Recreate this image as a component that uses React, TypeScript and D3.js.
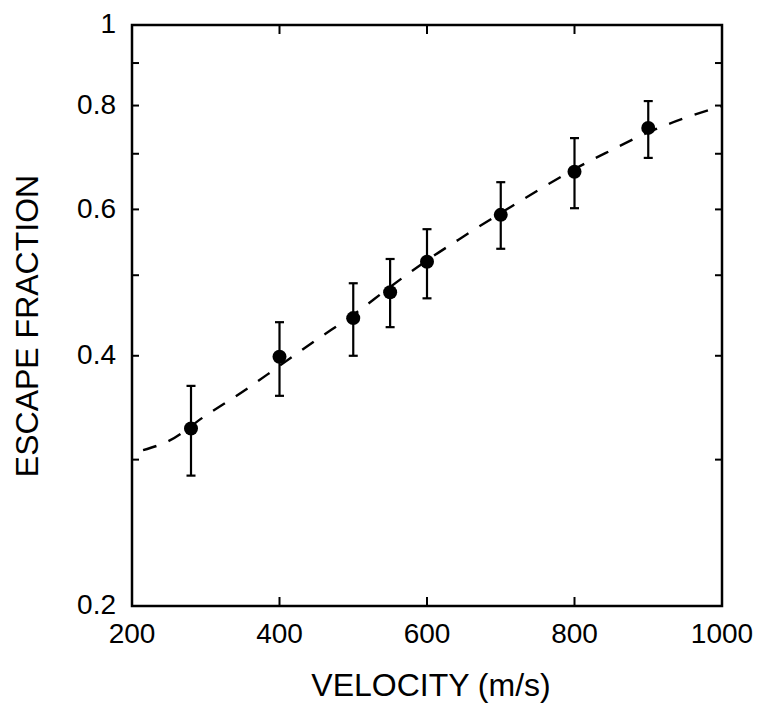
import React from "react";
import * as d3 from "d3";

const velocities = [280, 400, 500, 550, 600, 700, 800, 900];
const fractions = [0.327, 0.399, 0.444, 0.477, 0.519, 0.591, 0.666, 0.752];
const errLow = [0.287, 0.358, 0.4, 0.433, 0.469, 0.538, 0.602, 0.692];
const errHigh = [0.368, 0.439, 0.489, 0.523, 0.568, 0.647, 0.731, 0.81];

const fitV = [215, 250, 300, 350, 400, 450, 500, 550, 600, 650, 700, 750, 800, 850, 900, 950, 1000];
const fitF = [0.308, 0.316, 0.339, 0.362, 0.389, 0.418, 0.448, 0.484, 0.521, 0.557, 0.594, 0.632, 0.671, 0.707, 0.743, 0.773, 0.799];

const xTicks = [200, 400, 600, 800, 1000];
const xTickLabels = ["200", "400", "600", "800", "1000"];
const yTicks = [0.2, 0.4, 0.6, 0.8, 1];
const yTickLabels = ["0.2", "0.4", "0.6", "0.8", "1"];
const yMinorTicks = [0.3, 0.5, 0.7, 0.9];

const W = 758;
const H = 706;
const L = 132;
const R = 722;
const T = 25;
const B = 606;
const FONT = "'Liberation Sans', Arial, Helvetica, sans-serif";

export default function App() {
  const x = d3.scaleLinear().domain([200, 1000]).range([L, R]);
  const y = d3.scaleLog().domain([0.2, 1]).range([B, T]);
  const line = d3
    .line<number>()
    .x((_, i) => x(fitV[i]))
    .y((d) => y(d))
    .curve(d3.curveMonotoneX);

  const tickLen = 7;
  const allY = [...yTicks.slice(1, -1), ...yMinorTicks];
  const innerX = xTicks.slice(1, -1);

  return (
    <svg
      width={W}
      height={H}
      style={{ position: "absolute", left: 0, top: 0, background: "#fff" }}
      fontFamily={FONT}
    >
      <rect x={0} y={0} width={W} height={H} fill="#fff" />
      {allY.map((v, i) => (
        <g key={"yt" + i} stroke="#000" strokeWidth={2}>
          <line x1={L} x2={L + tickLen} y1={y(v)} y2={y(v)} />
          <line x1={R} x2={R - tickLen} y1={y(v)} y2={y(v)} />
        </g>
      ))}
      {innerX.map((v, i) => (
        <g key={"xt" + i} stroke="#000" strokeWidth={2}>
          <line x1={x(v)} x2={x(v)} y1={B} y2={B - 9} />
          <line x1={x(v)} x2={x(v)} y1={T} y2={T + 9} />
        </g>
      ))}
      <rect x={L} y={T} width={R - L} height={B - T} fill="none" stroke="#000" strokeWidth={2.5} />
      <path
        d={line(fitF) || ""}
        fill="none"
        stroke="#000"
        strokeWidth={2.4}
        strokeDasharray="14 13"
      />
      {velocities.map((v, i) => (
        <g key={"e" + i} stroke="#000" strokeWidth={2.2}>
          <line x1={x(v)} x2={x(v)} y1={y(errLow[i])} y2={y(errHigh[i])} />
          <line x1={x(v) - 4.5} x2={x(v) + 4.5} y1={y(errLow[i])} y2={y(errLow[i])} />
          <line x1={x(v) - 4.5} x2={x(v) + 4.5} y1={y(errHigh[i])} y2={y(errHigh[i])} />
        </g>
      ))}
      {velocities.map((v, i) => (
        <circle key={"p" + i} cx={x(v)} cy={y(fractions[i])} r={7} fill="#000" />
      ))}
      {yTicks.map((v, i) => (
        <text
          key={"yl" + i}
          x={116}
          y={y(v)}
          dy="0.3em"
          textAnchor="end"
          fontSize={28}
          fill="#000"
        >
          {yTickLabels[i]}
        </text>
      ))}
      {xTicks.map((v, i) => (
        <text key={"xl" + i} x={x(v)} y={643} textAnchor="middle" fontSize={28} fill="#000">
          {xTickLabels[i]}
        </text>
      ))}
      <text x={431} y={696} textAnchor="middle" fontSize={32} fill="#000">
        VELOCITY (m/s)
      </text>
      <text
        transform={`translate(38, 326) rotate(-90)`}
        textAnchor="middle"
        fontSize={32}
        fill="#000"
      >
        ESCAPE FRACTION
      </text>
    </svg>
  );
}
